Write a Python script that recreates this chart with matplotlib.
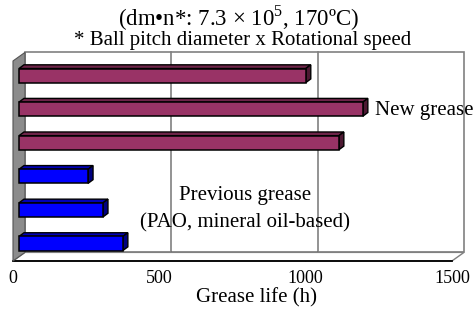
import matplotlib.pyplot as plt
from matplotlib.patches import Polygon
import numpy as np

plt.rcParams["font.family"] = ["Liberation Serif", "DejaVu Serif"]
plt.rcParams["mathtext.fontset"] = "custom"
plt.rcParams["mathtext.rm"] = "Liberation Serif"

# data (top to bottom as drawn)
bar_labels = ["new 1", "new 2", "new 3", "prev 1", "prev 2", "prev 3"]
grease_life = [980, 1175, 1093, 236, 287, 355]
bar_group = ["new", "new", "new", "prev", "prev", "prev"]
x_ticks = [0, 500, 1000, 1500]

title = "(dm\u2022n*: 7.3 \u00d7 10$^5$, 170\u00baC)"
subtitle = "* Ball pitch diameter x Rotational speed"
x_label = "Grease life (h)"

colors = {
    "new": ("#993366", "#6e2449", "#4d1933"),
    "prev": ("#0000ff", "#0000b8", "#000080"),
}

# pseudo-3D geometry (data units: hours on x, bar slots on y)
X_MAX = 1500
FLOOR = -0.52
TOP = 5.69
WALL_DX, WALL_DY = 41, 0.255
BAR_X0 = 20.5
BAR_H = 0.42
BAR_DX, BAR_DY = 17, 0.11

fig = plt.figure(figsize=(4.74, 3.12), dpi=100)
ax = fig.add_axes([0, 0, 1, 1])
ax.set_xlim(-44.4, 1575.2)
ax.set_ylim(-2.04, 7.25)
ax.axis("off")

# back wall
back_y0 = FLOOR + WALL_DY
ax.add_patch(Polygon([(WALL_DX, back_y0), (X_MAX + WALL_DX, back_y0),
                      (X_MAX + WALL_DX, TOP), (WALL_DX, TOP)],
                     closed=True, facecolor="white", edgecolor="#808080", lw=1.2, zorder=1))
for t in x_ticks[1:-1]:
    ax.plot([t + WALL_DX, t + WALL_DX], [back_y0, TOP], color="#808080", lw=1.2, zorder=1)
    ax.plot([t + WALL_DX, t], [back_y0, FLOOR], color="#333333", lw=0.9, zorder=1)

# floor
ax.add_patch(Polygon([(0, FLOOR), (X_MAX, FLOOR), (X_MAX + WALL_DX, back_y0), (WALL_DX, back_y0)],
                     closed=True, facecolor="white", edgecolor="#808080", lw=1.0, zorder=1))
ax.plot([0, X_MAX], [FLOOR, FLOOR], color="black", lw=1.3, zorder=2)

# left wall
ax.add_patch(Polygon([(0, FLOOR), (WALL_DX, back_y0), (WALL_DX, TOP), (0, TOP - WALL_DY)],
                     closed=True, facecolor="#8c8c8c", edgecolor="#555555", lw=0.8, zorder=2))

# bars
n = len(grease_life)
ypos = np.arange(n)[::-1]
for y, v, g in zip(ypos, grease_life, bar_group):
    front, top_c, side = colors[g]
    x1 = BAR_X0 + v
    yb, yt = y - BAR_H / 2, y + BAR_H / 2
    ax.add_patch(Polygon([(BAR_X0, yt), (x1, yt), (x1 + BAR_DX, yt + BAR_DY), (BAR_X0 + BAR_DX, yt + BAR_DY)],
                         closed=True, facecolor=top_c, edgecolor="black", lw=1.0, zorder=3))
    ax.add_patch(Polygon([(x1, yb), (x1 + BAR_DX, yb + BAR_DY), (x1 + BAR_DX, yt + BAR_DY), (x1, yt)],
                         closed=True, facecolor=side, edgecolor="black", lw=1.0, zorder=3))
    ax.barh(y, v, left=BAR_X0, height=BAR_H, color=front, edgecolor="black", lw=1.1, zorder=4)

# tick labels
for t in x_ticks:
    ax.text(t, -1.03, str(t), ha="center", va="center", fontsize=13)

ax.text(1237, 3.97, "New grease", ha="left", va="center", fontsize=15)
ax.text(793, 1.44, "Previous grease", ha="center", va="center", fontsize=15)
ax.text(793, 0.61, "(PAO, mineral oil-based)", ha="center", va="center", fontsize=15)

fig.text(239 / 474, 1 - 18 / 312, title, ha="center", va="center", fontsize=16.5)
fig.text(243 / 474, 1 - 40 / 312, subtitle, ha="center", va="center", fontsize=15)
fig.text(257 / 474, 1 - 298 / 312, x_label, ha="center", va="center", fontsize=15)

fig.savefig("out.png", dpi=100)
